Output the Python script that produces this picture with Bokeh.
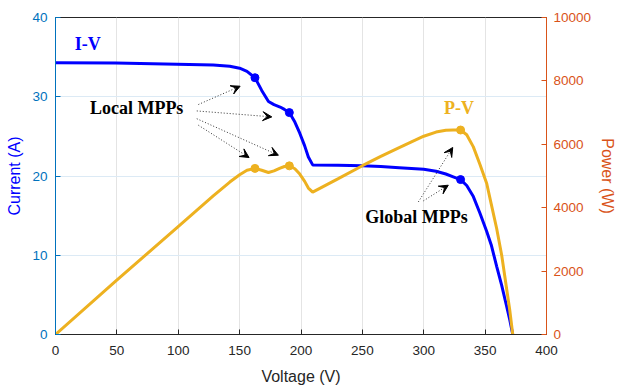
from bokeh.plotting import figure
from bokeh.models import Range1d, LinearAxis, Arrow, VeeHead, ColumnDataSource, FixedTicker
from bokeh.core.properties import value
from bokeh.embed import file_html
from bokeh.resources import INLINE

# ---- data ----
voltage = [0, 49, 99, 128.5, 142, 150, 156, 162.5, 168, 173.5, 178, 183, 186.5, 190.5,
           195, 199, 203, 206, 209.5, 230, 250, 265, 280, 290, 300, 310, 318, 324, 330,
           335, 340.4, 345.8, 351.3, 355, 359.4, 363.5, 367.6, 370, 372.5]
current = [34.3, 34.25, 34.1, 34.0, 33.85, 33.6, 33.2, 32.4, 30.8, 29.4, 29.0, 28.7, 28.4, 28.0,
           26.8, 25.4, 23.8, 22.4, 21.4, 21.35, 21.3, 21.2, 21.05, 20.95, 20.85, 20.6, 20.25,
           19.9, 19.55, 18.8, 17.4, 15.3, 13.0, 11.3, 8.6, 6.2, 3.5, 1.9, 0]
power = [0, 1680, 3375, 4370, 4810, 5040, 5180, 5240, 5180, 5110, 5160, 5250, 5300, 5320,
         5230, 5060, 4830, 4620, 4490, 4910, 5325, 5618, 5894, 6075, 6255, 6386, 6440,
         6448, 6451, 6300, 5918, 5360, 4763, 4115, 3345, 2500, 1420, 790, 0]

mpp_voltage = [162.5, 190.5, 330.0]
mpp_current = [32.4, 28.0, 19.55]
mpp_power = [5240, 5320, 6451]

x_ticks = [0, 50, 100, 150, 200, 250, 300, 350, 400]
current_ticks = [0, 10, 20, 30, 40]
power_ticks = [0, 2000, 4000, 6000, 8000, 10000]

label_text = ["I-V", "Local MPPs", "P-V", "Global MPPs"]
label_x = [26.2, 66.1, 328.7, 294.1]
label_y = [36.6, 28.56, 28.56, 14.84]
label_color = ["#0000FF", "#000000", "#EDB120", "#000000"]

arrow_x0 = [116.4, 115.1, 116.4, 115.1, 295.6, 299.7]
arrow_y0 = [29.02, 28.21, 26.41, 27.23, 16.73, 16.86]
arrow_x1 = [150.4, 176.2, 157.7, 181.6, 323.6, 320.0]
arrow_y1 = [31.33, 27.46, 22.33, 22.62, 23.6, 18.84]

BLUE_AX = "#0072BD"
ORANGE_AX = "#D95319"
DARK = "#262626"
TICK_FONT = "13.5px"

p = figure(width=619, height=389, x_range=Range1d(0, 400), y_range=Range1d(0, 40),
           output_backend="svg", toolbar_location=None,
           min_border_left=55, min_border_right=73, min_border_top=17, min_border_bottom=55)
p.extra_y_ranges = {"power": Range1d(0, 10000)}
p.outline_line_color = DARK
p.outline_line_width = 1
p.background_fill_color = "white"

# grids
p.xgrid.ticker = FixedTicker(ticks=x_ticks)
p.xgrid.grid_line_color = "#E4E4E4"
p.ygrid.ticker = FixedTicker(ticks=current_ticks)
p.ygrid.grid_line_color = "#DCEAF5"

def style_axis(ax, color, label_color, ticks):
    ax.ticker = FixedTicker(ticks=ticks)
    ax.axis_line_color = color
    ax.major_tick_line_color = color
    ax.major_tick_in = 5
    ax.major_tick_out = 0
    ax.minor_tick_line_color = None
    ax.major_label_text_color = color
    ax.major_label_text_font = "Liberation Sans"
    ax.major_label_text_font_size = TICK_FONT
    ax.axis_label_text_font = "Liberation Sans"
    ax.axis_label_text_font_style = "normal"
    ax.axis_label_text_font_size = "16px"
    ax.axis_label_text_color = label_color

xa = p.xaxis[0]
style_axis(xa, DARK, DARK, x_ticks)
xa.axis_label = "Voltage (V)"
xa.major_label_standoff = 11
xa.axis_label_standoff = 10

ya = p.yaxis[0]
style_axis(ya, BLUE_AX, "#0000FF", current_ticks)
ya.axis_label = "Current (A)"
ya.major_label_standoff = 8
ya.axis_label_standoff = 6

ra = LinearAxis(y_range_name="power")
style_axis(ra, ORANGE_AX, ORANGE_AX, power_ticks)
ra.axis_label = "Power (W)"
ra.major_label_standoff = 7
ra.axis_label_standoff = 5
p.add_layout(ra, "right")

# curves
p.line(voltage, current, line_width=3, line_color="#0000FF")
p.scatter(mpp_voltage, mpp_current, size=8, color="#0000FF")
p.line(voltage, power, y_range_name="power", line_width=3, line_color="#EDB120")
p.scatter(mpp_voltage, mpp_power, y_range_name="power", size=8, color="#EDB120")

# arrows
arr_src = ColumnDataSource(dict(x0=arrow_x0, y0=arrow_y0, x1=arrow_x1, y1=arrow_y1))
p.add_layout(Arrow(x_start="x0", y_start="y0", x_end="x1", y_end="y1", source=arr_src,
                   line_color="#333333", line_width=1, line_dash="1 2",
                   end=VeeHead(size=9, fill_color="black", line_color="black", line_width=1)))

# labels
lab_src = ColumnDataSource(dict(x=label_x, y=label_y, t=label_text, c=label_color))
p.text(x="x", y="y", text="t", text_color="c", source=lab_src,
       text_font=value("Liberation Serif"), text_font_style="bold", text_font_size="18px",
       text_align="center", text_baseline="middle")

open("out.html", "w").write(file_html(p, INLINE))
